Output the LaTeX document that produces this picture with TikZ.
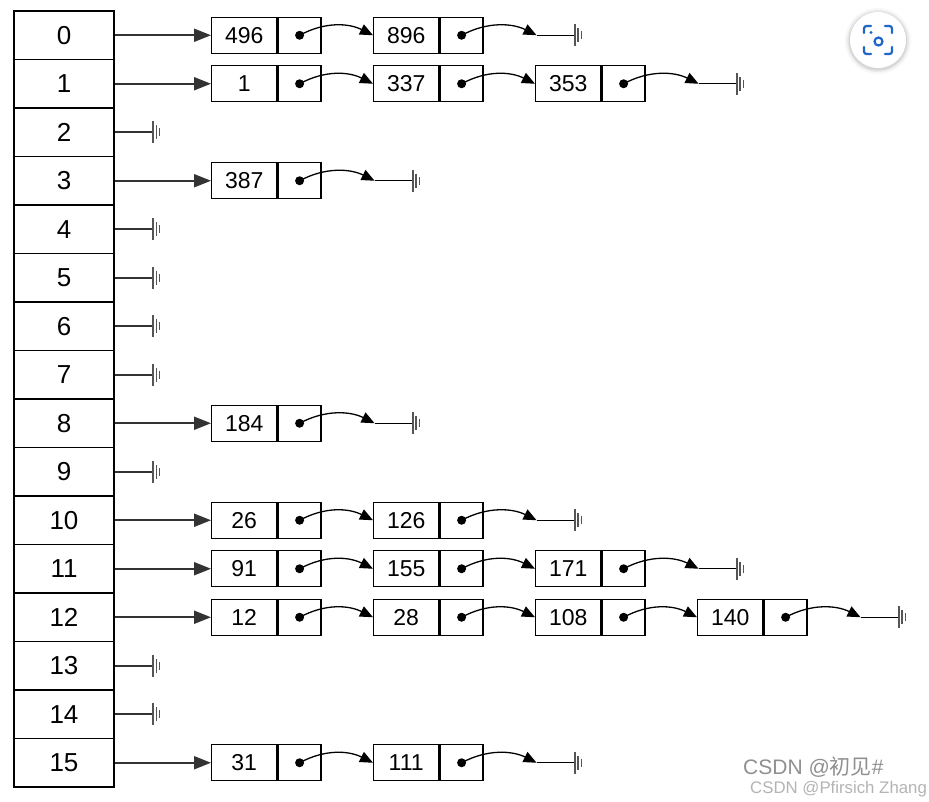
\documentclass[tikz,border=0pt]{standalone}
\usepackage{fontspec}
\setmainfont{Liberation Sans}
\newfontfamily\cjkfont{Noto Sans CJK SC}
\usetikzlibrary{arrows.meta}
\definecolor{lnk}{HTML}{333333}
\definecolor{gnd}{HTML}{555555}
\definecolor{wm}{HTML}{B4B4B4}
\definecolor{iconblue}{HTML}{1F66C6}
\newcommand\gndsym[1]{%
  \draw[gndl] (#1) ++(0,-11) -- ++(0,22);
  \draw[gndl,line width=1.5pt] (#1) ++(3.5,-7) -- ++(0,14);
  \draw[gndl,line width=1.3pt] (#1) ++(7,-4) -- ++(0,8);}
\begin{document}
\begin{tikzpicture}[x=1pt,y=-1pt,
  cell/.style={draw, line width=1.6pt, minimum width=100pt, minimum height=48.5pt, inner sep=0pt, font=\fontsize{26}{26}\selectfont},
  val/.style={draw, line width=1.4pt, minimum width=65pt, minimum height=36pt, inner sep=0pt, anchor=west, font=\fontsize{23}{23}\selectfont},
  ptr/.style={draw, line width=1.4pt, minimum width=43pt, minimum height=36pt, inner sep=0pt, anchor=west},
  link/.style={draw=lnk, line width=1.9pt, -{Triangle[length=17pt,width=13pt]}},
  curv/.style={draw=black, line width=1.3pt, -{Triangle[length=13pt,width=11pt]}},
  gndl/.style={draw=gnd, line width=2pt},
  nul/.style={draw=lnk, line width=1.9pt},
  tail/.style={draw=black, line width=1.4pt}]
\useasboundingbox (0,0) rectangle (929,801);
\fill[white] (0,0) rectangle (929,801);
% array
\foreach \i in {0,...,15} {
  \node[cell] (a\i) at (64, {11+48.5*(\i+0.5)}) {\i};
}
% empty buckets
\foreach \r in {2,4,5,6,7,9,13,14} {
  \coordinate (g\r) at ([xshift=38pt]a\r.east);
  \draw[nul] (a\r.east) -- (g\r);
  \gndsym{g\r}
}
% chains
\foreach \r/\n/\vals in {0/2/{496,896},1/3/{1,337,353},3/1/{387},8/1/{184},10/2/{26,126},11/3/{91,155,171},12/4/{12,28,108,140},15/2/{31,111}} {
  \pgfmathsetmacro\yy{11+48.5*(\r+0.5)}
  \foreach \v [count=\k] in \vals {
    \node[val] (v\r-\k) at ({211+162*(\k-1)}, \yy) {\v};
    \node[ptr] (p\r-\k) at (v\r-\k.east) {};
    \fill (p\r-\k.center) circle (4.5pt);
  }
  \draw[link] (a\r.east) -- (v\r-1.west);
  \foreach \k [evaluate=\k as \kk using int(\k+1)] in {1,...,\n} {
    \ifnum\k<\n
      \draw[curv] (p\r-\k.center) .. controls +(26,-14) and +(-24,-12) .. (v\r-\kk.west);
    \fi
  }
  \coordinate (t\r) at ([xshift=75pt]p\r-\n.center);
  \coordinate (e\r) at ([xshift=113pt]p\r-\n.center);
  \draw[curv] (p\r-\n.center) .. controls +(26,-14) and +(-24,-12) .. (t\r);
  \draw[tail] (t\r) -- (e\r);
  \gndsym{e\r}
}
% camera button
\foreach \rr/\op in {33/0.03,31/0.05,29.5/0.08} {
  \fill[black,opacity=\op] (878,41) circle (\rr pt);
}
\fill[white] (878,40) circle (28pt);
\begin{scope}[draw=iconblue, line width=2.2pt, line cap=round, rounded corners=2.5pt]
  \draw (864,33) -- (864,26) -- (871,26);
  \draw (885,26) -- (892,26) -- (892,33);
  \draw (892,47) -- (892,54) -- (885,54);
  \draw (871,54) -- (864,54) -- (864,47);
  \draw (878.5,41.5) circle (4pt);
\end{scope}
\fill[iconblue] (871,32.5) circle (1.6pt);
% watermarks
\node[anchor=west, inner sep=0pt, font=\fontsize{21}{21}\selectfont, text=wm!80!black] at (743,767) {CSDN @{\cjkfont 初见}\#};
\node[anchor=west, inner sep=0pt, font=\fontsize{16.8}{16.8}\selectfont, text=wm] at (750,789) {CSDN @Pfirsich Zhang};
\end{tikzpicture}
\end{document}
